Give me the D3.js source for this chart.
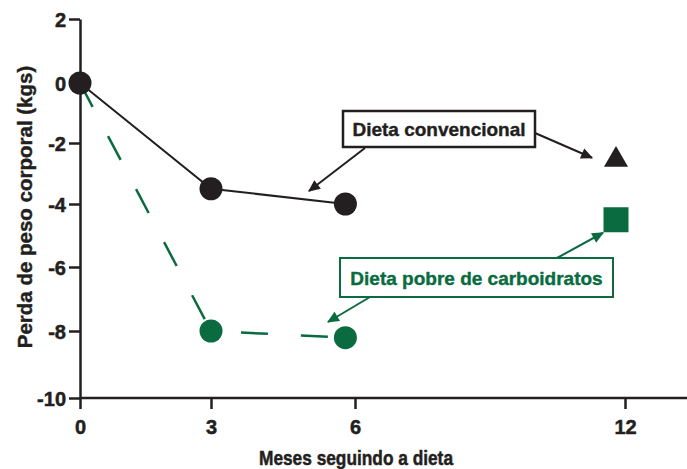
<!DOCTYPE html>
<html>
<head>
<meta charset="utf-8">
<script src="https://cdn.jsdelivr.net/npm/d3@7"></script>
<style>
  body { margin: 0; background: #fff; }
  text { font-family: "Liberation Sans", Arial, sans-serif; font-weight: bold; }
</style>
</head>
<body>
<div id="chart"></div>
<script>
// data
let months = [0, 3, 5.8],
    convencional = [0, -3.5, -4.0],
    pobreCarb = [0, -8.0, -8.2]
let mes12 = 11.8,
    conv12 = -2.55,
    carb12 = -4.5
let xTicks = [0, 3, 6, 12],
    yTicks = [2, 0, -2, -4, -6, -8, -10]

const width = 687,
      height = 469

const black = "#231f20",
      green = "#0a6b40"

const svg = d3.select("#chart")
    .append("svg")
    .attr("width", width)
    .attr("height", height);

// the printed axes are not quite evenly spaced, so the scales follow the tick positions
var x = d3.scaleLinear().domain([0, 3, 6, 12, 13.37]).range([80, 211, 355, 625, 687]),
    y = d3.scaleLinear().domain([-10, -8, -6, -4, -2, 0, 2]).range([398, 331, 267, 204, 143, 83, 19]);

// arrow heads
var defs = svg.append("defs");
[["arrBlack", black], ["arrGreen", green]].forEach(function(m) {
  defs.append("marker")
      .attr("id", m[0])
      .attr("viewBox", "0 0 10 10")
      .attr("refX", 9).attr("refY", 5)
      .attr("markerWidth", 6.5).attr("markerHeight", 6)
      .attr("markerUnits", "strokeWidth")
      .attr("orient", "auto")
    .append("path")
      .attr("d", "M0,0.5L10,5L0,9.5Z")
      .attr("fill", m[1]);
});

// axes
var fmt = function(d) { return String(d); };

var xAxis = svg.append("g")
    .attr("transform", "translate(0," + y(-10) + ")")
    .call(d3.axisBottom(x).tickValues(xTicks).tickFormat(fmt).tickSize(11).tickPadding(11).tickSizeOuter(0));

var yAxis = svg.append("g")
    .attr("transform", "translate(" + x(0) + ",0)")
    .call(d3.axisLeft(y).tickValues(yTicks).tickFormat(fmt).tickSize(11).tickPadding(3).tickSizeOuter(0));

[xAxis, yAxis].forEach(function(a) {
  a.select(".domain").attr("stroke", black).attr("stroke-width", 2.5);
  a.selectAll(".tick line").attr("stroke", black).attr("stroke-width", 2.5);
  a.selectAll(".tick text")
      .attr("fill", black)
      .attr("stroke", black)
      .attr("stroke-width", 0.5)
      .style("font-size", "20px")
      .style("font-family", "'Liberation Sans', Arial, sans-serif")
      .style("font-weight", "bold");
});
xAxis.select(".domain").attr("d", "M" + x(0) + ",0H" + width);
yAxis.selectAll(".tick text").attr("dy", "0.36em");

// axis titles
svg.append("text")
    .attr("x", 356)
    .attr("y", 465)
    .attr("text-anchor", "middle")
    .attr("fill", black)
    .attr("stroke", black)
    .attr("stroke-width", 0.5)
    .attr("textLength", 194)
    .attr("lengthAdjust", "spacingAndGlyphs")
    .style("font-size", "21px")
    .text("Meses seguindo a dieta");

svg.append("text")
    .attr("transform", "translate(32," + 207 + ") rotate(-90)")
    .attr("text-anchor", "middle")
    .attr("fill", black)
    .attr("stroke", black)
    .attr("stroke-width", 0.4)
    .style("font-size", "20.5px")
    .text("Perda de peso corporal (kgs)");

// lines
var line = d3.line()
    .x(function(d) { return x(d[0]); })
    .y(function(d) { return y(d[1]); });

var convData = months.map(function(m, i) { return [m, convencional[i]]; }),
    carbData = months.map(function(m, i) { return [m, pobreCarb[i]]; });

// dashed green line, each segment starts its own dash pattern
svg.selectAll(".carbSeg")
    .data(d3.pairs(carbData))
    .enter().append("path")
      .attr("class", "carbSeg")
      .attr("fill", "none")
      .attr("stroke", green)
      .attr("stroke-width", 2.5)
      .attr("stroke-dasharray", "27,33")
      .attr("stroke-dashoffset", function(d, i) { return i == 0 ? 0 : 30; })
      .attr("d", line);

svg.append("path")
    .datum(convData)
    .attr("fill", "none")
    .attr("stroke", black)
    .attr("stroke-width", 2)
    .attr("d", line);

svg.selectAll(".dotCarb")
    .data(carbData.slice(1))
    .enter().append("circle")
      .attr("class", "dotCarb")
      .attr("cx", function(d) { return x(d[0]); })
      .attr("cy", function(d) { return y(d[1]); })
      .attr("r", 11.5)
      .attr("fill", green);

svg.selectAll(".dotConv")
    .data(convData)
    .enter().append("circle")
      .attr("class", "dotConv")
      .attr("cx", function(d) { return x(d[0]); })
      .attr("cy", function(d) { return y(d[1]); })
      .attr("r", 11.5)
      .attr("fill", black);

// 12 month markers
svg.append("path")
    .attr("transform", "translate(" + x(mes12) + "," + y(conv12) + ")")
    .attr("d", d3.symbol(d3.symbolTriangle, 250))
    .attr("fill", black);

svg.append("rect")
    .attr("x", x(mes12) - 12.5)
    .attr("y", y(carb12) - 12.5)
    .attr("width", 25)
    .attr("height", 25)
    .attr("fill", green);

// annotations
function label(txt, color, bx, by, bw, bh, sw) {
  svg.append("rect")
      .attr("x", bx).attr("y", by)
      .attr("width", bw).attr("height", bh)
      .attr("fill", "#fff")
      .attr("stroke", color)
      .attr("stroke-width", sw);
  svg.append("text")
      .attr("x", bx + bw / 2)
      .attr("y", by + bh / 2 + 7)
      .attr("text-anchor", "middle")
      .attr("fill", color)
      .attr("stroke", color)
      .attr("stroke-width", 0.4)
      .style("font-size", "19px")
      .text(txt);
}

function arrow(color, x1, y1, x2, y2) {
  svg.append("line")
      .attr("x1", x1).attr("y1", y1)
      .attr("x2", x2).attr("y2", y2)
      .attr("stroke", color)
      .attr("stroke-width", 2)
      .attr("marker-end", "url(#" + (color == black ? "arrBlack" : "arrGreen") + ")");
}

arrow(black, 365, 148, 309, 191);
arrow(black, 535, 133, x(mes12) - 24, y(conv12) - 2);
arrow(green, 370, 297, 328, 322);
arrow(green, 557, 258, x(mes12) - 13, y(carb12) + 13);

label("Dieta convencional", black, 343, 111, 192, 36, 2.5);
label("Dieta pobre de carboidratos", green, 340, 258, 273, 39, 2);
</script>
</body>
</html>
